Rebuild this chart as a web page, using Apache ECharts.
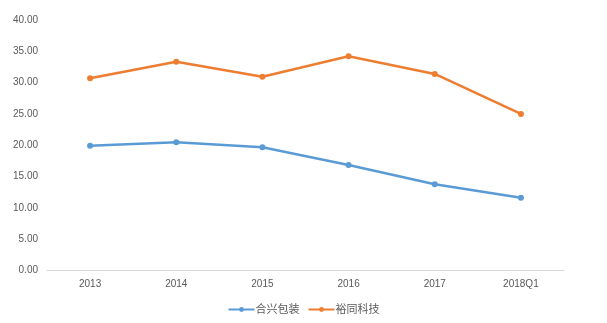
<!DOCTYPE html>
<html><head><meta charset="utf-8">
<script src="https://cdn.jsdelivr.net/npm/echarts@6/dist/echarts.min.js"></script>
<style>html,body{margin:0;padding:0;background:#fff}#c{width:607px;height:323px}</style>
</head><body><div id="c"></div>
<script>
const categories = ['2013','2014','2015','2016','2017','2018Q1'];
const heXing = [19.93, 20.47, 19.67, 16.85, 13.76, 11.62];
const yuTong = [30.69, 33.34, 30.95, 34.2, 31.38, 25.0];
const seriesNames = ['合兴包装','裕同科技'];

const chart = echarts.init(document.getElementById('c'));
const font = '"Liberation Sans", "Noto Sans CJK SC", sans-serif';
chart.setOption({
  animation: false,
  backgroundColor: '#fff',
  grid: {left: 47, right: 43, top: 20, bottom: 52.5, containLabel: false},
  legend: {
    data: seriesNames, bottom: 3, left: 'center', itemWidth: 26, itemHeight: 6, itemGap: 8,
    textStyle: {color: '#595959', fontSize: 11, fontFamily: font, padding: [0,0,0,-4]}
  },
  xAxis: {
    type: 'category', data: categories, boundaryGap: true,
    axisLine: {lineStyle: {color: '#d9d9d9', width: 1}},
    axisTick: {show: false},
    axisLabel: {color: '#595959', fontSize: 10, margin: 9, fontFamily: font}
  },
  yAxis: {
    type: 'value', min: 0, max: 40, interval: 5,
    axisLine: {show: false}, axisTick: {show: false},
    splitLine: {show: false},
    axisLabel: {color: '#595959', fontSize: 10, margin: 9, fontFamily: font, formatter: v => v.toFixed(2)}
  },
  series: [
    {name: seriesNames[0], type: 'line', data: heXing, symbol: 'circle', symbolSize: 6,
     lineStyle: {color: '#5B9BD5', width: 2.5}, itemStyle: {color: '#5B9BD5'}},
    {name: seriesNames[1], type: 'line', data: yuTong, symbol: 'circle', symbolSize: 6,
     lineStyle: {color: '#ED7D31', width: 2.5}, itemStyle: {color: '#ED7D31'}}
  ]
});
</script></body></html>
